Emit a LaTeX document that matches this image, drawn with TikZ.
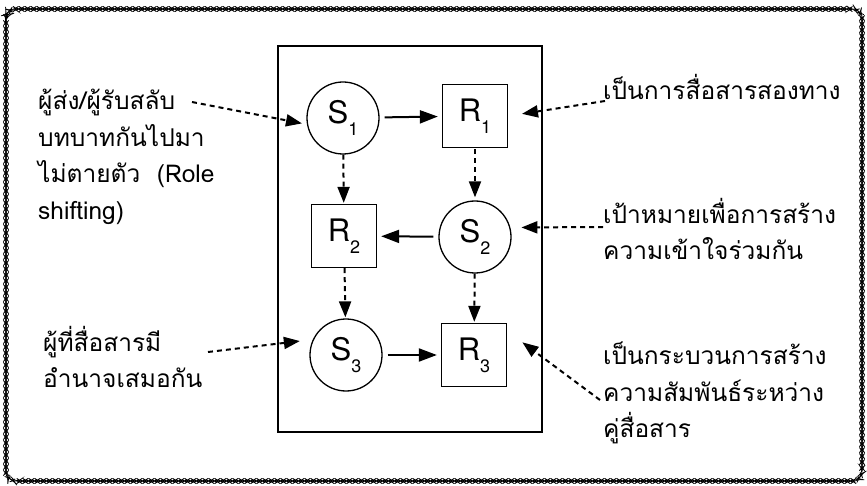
\documentclass[tikz,border=0pt]{standalone}
\usepackage{fontspec}
\setmainfont{TeX Gyre Heros}
\newfontfamily\thaifont[Script=Thai]{Loma}
\usetikzlibrary{positioning, arrows.meta, decorations.pathmorphing}

\newcommand{\sr}[2]{#1\raisebox{-12pt}{\fontsize{18}{18}\selectfont #2}}

\begin{document}
\begin{tikzpicture}[x=1pt, y=-1pt,
  sender/.style={draw, circle, line width=1.3pt, minimum size=72pt, inner sep=0pt, font=\fontsize{31}{31}\selectfont},
  receiver/.style={draw, rectangle, line width=1.3pt, minimum width=65pt, minimum height=63pt, inner sep=0pt, font=\fontsize{31}{31}\selectfont},
  flow/.style={-{Triangle[length=18pt, width=13pt]}, line width=2pt},
  turn/.style={-{Triangle[length=16pt, width=12pt]}, line width=2pt, dash pattern=on 5pt off 4pt},
  note/.style={align=left, inner sep=0pt, font=\thaifont\fontsize{24.5}{36.5}\selectfont},
  frame/.style={decorate, decoration={zigzag, segment length=12pt, amplitude=3pt}, line width=0.7pt}]
\useasboundingbox (0,0) rectangle (867,486);
% outer frame
\draw[frame] (6,9) [rounded corners=8pt] rectangle (862,481);
\draw[frame, decoration={mirror}] (6,9) [rounded corners=8pt] rectangle (862,481);
\draw[line width=2pt] (278,46) rectangle (542,432);

\node[sender] (S1) at (343,118) {\sr{S}{1}};
\node[receiver] (R1) at (475,116) {\sr{R}{1}};
\node[receiver] (R2) at (344,236) {\sr{R}{2}};
\node[sender] (S2) at (475,237) {\sr{S}{2}};
\node[sender] (S3) at (346,355) {\sr{S}{3}};
\node[receiver] (R3) at (474,355) {\sr{R}{3}};

\draw[flow, shorten <=5pt, shorten >=4pt] (S1) -- (R1);
\draw[flow, shorten <=5pt, shorten >=4pt] (S2) -- (R2);
\draw[flow, shorten <=5pt, shorten >=4pt] (S3) -- (R3);
\draw[turn, shorten >=1pt] (S1) -- (R2);
\draw[turn, shorten <=1pt, shorten >=3pt] (R1) -- (S2);
\draw[turn, shorten >=1pt] (R2) -- (S3);
\draw[turn, shorten >=1pt] (S2) -- (R3);

% notes
\node[note, anchor=west] (nRole) at (38,157) {ผู้ส่ง/ผู้รับสลับ\\บทบาทกันไปมา\\ไม่ตายตัว \ (Role\\shifting)};
\node[note, anchor=west] (nEqual) at (43,357) {ผู้ที่สื่อสารมี\\อำนาจเสมอกัน};
\node[note, anchor=west] (nTwoWay) at (603,87) {เป็นการสื่อสารสองทาง};
\node[note, anchor=west] (nGoal) at (603,229) {เป้าหมายเพื่อการสร้าง\\ความเข้าใจร่วมกัน};
\node[note, anchor=west] (nBond) at (603,393) {เป็นกระบวนการสร้าง\\ความสัมพันธ์ระหว่าง\\คู่สื่อสาร};

\coordinate (aRole) at (192,102);
\coordinate (aEqual) at (208,352);
\coordinate (aTwoWay) at (605,101);
\coordinate (aGoal) at (603,227);
\coordinate (aBond) at (600,400);

\draw[turn, shorten >=5pt] (aRole) -- (S1.190);
\draw[turn, shorten >=13pt] (aEqual) -- (S3.155);
\draw[turn, shorten >=14pt] (aTwoWay) -- (R1.east);
\draw[turn, shorten >=11pt] (aGoal) -- (S2.15);
\draw[turn, shorten >=19pt] (aBond) -- ([yshift=24pt]R3.east);
\end{tikzpicture}
\end{document}
